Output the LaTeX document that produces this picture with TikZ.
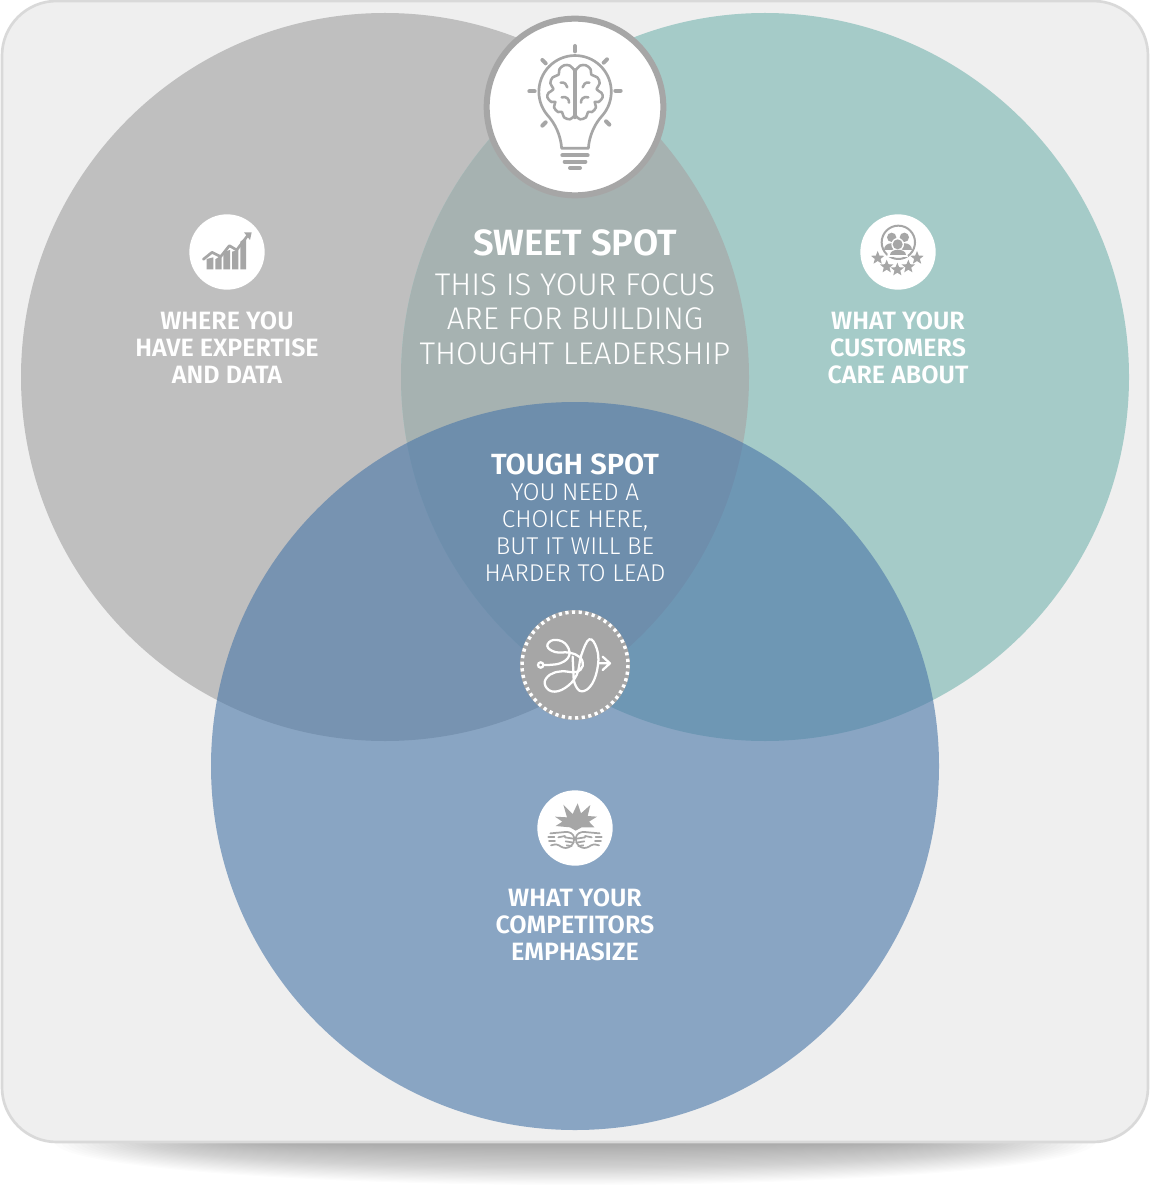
\documentclass[tikz,border=0pt]{standalone}
\usepackage{fontspec}
\setmainfont{Fira Sans}
\newfontfamily\lightfont[UprightFont={* Light}]{Fira Sans}
\newfontfamily\medfont[UprightFont={* SemiBold}]{Fira Sans}
\usetikzlibrary{shapes.geometric}
\definecolor{panelfill}{HTML}{EFEFEF}
\definecolor{panelline}{HTML}{D9D9D9}
\definecolor{graycircle}{HTML}{BFBFBF}
\definecolor{tealcircle}{HTML}{A5CBC8}
\definecolor{grayteal}{HTML}{A6B2B1}
\definecolor{bluecircle}{RGB}{77,121,169}
\definecolor{icongray}{HTML}{A6A6A6}
\tikzset{
  iconline/.style={draw=icongray,line width=2pt,line cap=round,line join=round},
  iconback/.style={fill=white,draw=none},
  labeltext/.style={text=white,align=center,font=\medfont\fontsize{18.8}{20.25}\selectfont},
  sweethead/.style={text=white,font=\medfont\fontsize{27.4}{28}\selectfont},
  sweetbody/.style={text=white,align=center,font=\lightfont\fontsize{23.5}{25.8}\selectfont},
  toughhead/.style={text=white,font=\medfont\fontsize{21.9}{22}\selectfont},
  toughbody/.style={text=white,align=center,font=\lightfont\fontsize{18.2}{20.25}\selectfont},
}
\newcommand{\brainlobe}{%
  \draw[iconline,line width=1.9pt] plot[smooth,tension=.6] coordinates {(312,180) (300,167) (282,166) (268,178) (266,194) (248,202) (241,220) (250,238) (236,248) (232,262) (244,276) (256,276) (252,292) (264,306) (276,306) (282,322) (300,328) (312,318)};
  \draw[iconline,line width=1.9pt] (272,218) .. controls (285,215) and (290,225) .. (292,232);
  \draw[iconline,line width=1.9pt] (275,262) .. controls (290,258) and (298,268) .. (297,278);
}
\newcommand{\fistshape}{%
  \draw[iconline,line width=1.3pt,rounded corners=2pt] (76,160) -- (100,158) -- (130,155) -- (146,164) -- (148,180) -- (143,194) -- (130,204) -- (114,204) -- (96,192) -- (78,196);
  \draw[iconline,line width=1.3pt] (100,172) -- (120,168) (120,172) -- (146,176) (122,184) -- (146,188) (125,196) -- (140,198);
  \draw[iconline,line width=1.3pt] (70,172) -- (88,172) (72,184) -- (90,184);
}
\begin{document}
\begin{tikzpicture}[x=.75pt,y=-.75pt]
\useasboundingbox (0,0) rectangle (1155,1194);

\begin{scope}
\clip (0,1142) rectangle (1155,1194);
\foreach \i in {36,35,...,1}{
  \pgfmathsetmacro{\shadowt}{\i/36};
  \fill[black,fill opacity=.0105] (575,1142) ellipse [x radius={300+220*\shadowt},y radius={43*\shadowt}];
}
\end{scope}
\draw[panelline,fill=panelfill,line width=2pt,rounded corners=41pt] (2,1) rectangle (1148,1142);

\pgfmathsetmacro{\vennr}{364};
\coordinate (grayc) at (385,377);
\coordinate (tealc) at (765,377);
\coordinate (bluec) at (575,766);
\fill[graycircle] (grayc) circle [radius=\vennr];
\fill[tealcircle] (tealc) circle [radius=\vennr];
\begin{scope}
\clip (grayc) circle [radius=\vennr];
\fill[grayteal] (tealc) circle [radius=\vennr];
\end{scope}
\fill[bluecircle,fill opacity=.625] (bluec) circle [radius=\vennr];

\node[circle,fill=white,draw=icongray,line width=4.5pt,minimum size=132.5pt,inner sep=0pt] (bulbcircle) at (575,107) {};
\begin{scope}[shift={(470,10)},x=.25pt,y=-.25pt]
\draw[iconline] (275,415) .. controls (272,375) and (255,340) .. (232,315) arc [radius=108.6,start angle=140,end angle=400] .. controls (375,340) and (358,375) .. (355,415) -- cycle;
\draw[iconline,line width=2.8pt] (315,180) -- (315,322);
\brainlobe
\begin{scope}[shift={(630,0)},xscale=-1]
\brainlobe
\end{scope}
\draw[iconline,line width=3pt] (277,436) -- (353,436);
\draw[iconline,line width=3pt] (284,455) -- (346,455);
\draw[iconline,line width=3pt] (300,474) -- (330,474);
\draw[iconline,line width=3pt] (315,108) -- (315,124);
\draw[iconline,line width=3pt] (178,244) -- (194,244);
\draw[iconline,line width=3pt] (436,242) -- (452,242);
\draw[iconline,line width=3pt] (217,150) -- (227,160);
\draw[iconline,line width=3pt] (411,148) -- (401,158);
\draw[iconline,line width=3pt] (217,347) -- (227,337);
\draw[iconline,line width=3pt] (418,344) -- (408,334);
\end{scope}

\node[circle,iconback,minimum size=56.5pt,inner sep=0pt] (chartcircle) at (227,252) {};
\begin{scope}[shift={(170,200)},x=.25pt,y=-.25pt]
\foreach \xa/\xb/\ya/\yb in {110/130/177/172,136/155/178/165,160/180/155/150,186/205/155/150,211/228/125/112}{
  \fill[icongray] (\xa,208) -- (\xa,\ya) -- (\xb,\yb) -- (\xb,208) -- cycle;
}
\draw[iconline] (100,178) -- (126,157) -- (152,170) -- (178,137) -- (200,150) -- (232,108);
\fill[icongray] (222,97) -- (245,97) -- (240,120) -- cycle;
\end{scope}

\node[circle,iconback,minimum size=56.5pt,inner sep=0pt] (peoplecircle) at (898,252) {};
\begin{scope}[shift={(845,200)},x=.25pt,y=-.25pt]
\draw[iconline,line width=1.5pt] (160,127) circle [radius=50];
\foreach \hx/\hy/\hr in {140/112/14,178/112/14}{
  \fill[icongray] (\hx,\hy) circle [radius=\hr];
  \fill[icongray] (\hx-22,150) .. controls (\hx-22,122) and (\hx+22,122) .. (\hx+22,150) -- cycle;
}
\fill[white] (158,133) circle [radius=19];
\fill[white] (126,172) .. controls (126,138) and (190,138) .. (190,172) -- cycle;
\fill[icongray] (158,133) circle [radius=15];
\fill[icongray] (134,166) .. controls (134,143) and (182,143) .. (182,166) -- cycle;
\foreach \sx/\sy [count=\i] in {98/174,125/200,157/209,190/200,216/174}{
  \node[star,star points=5,star point ratio=2.3,fill=icongray,minimum size=10.5pt,inner sep=0pt] (star\i) at (\sx,\sy) {};
}
\end{scope}

\node[circle,fill=icongray,draw=none,minimum size=82.5pt,inner sep=0pt] (routecircle) at (575,665) {};
\draw[white,line width=2.6pt,dash pattern=on 2.4pt off 2.6pt] (routecircle.center) circle [radius=53];
\begin{scope}[shift={(510,600)},x=.25pt,y=-.25pt]
\draw[white,line width=1.7pt] (92,195) circle [radius=8];
\draw[white,line width=1.7pt,line cap=round] plot[smooth,tension=.7] coordinates {(100,195) (150,190) (178,165) (165,130) (130,120) (112,138) (135,156) (178,158) (210,172) (218,198) (198,216) (155,214) (120,224) (104,250) (125,274) (165,264) (200,225) (214,165) (238,118) (260,145) (264,195) (246,252) (215,274) (194,250) (190,210) (188,170)};
\draw[white,line width=1.7pt,line cap=round,line join=round] (264,190) -- (300,190) (278,170) -- (300,190) -- (278,210);
\end{scope}

\node[circle,iconback,minimum size=56.5pt,inner sep=0pt] (fistcircle) at (575,828) {};
\begin{scope}[shift={(525,780)},x=.25pt,y=-.25pt]
\fill[icongray] (90,110) -- (126,112) -- (115,74) -- (143,102) -- (158,70) -- (168,100) -- (196,75) -- (188,108) -- (216,110) -- (192,125) -- (208,142) -- (170,142) -- (152,152) -- (135,142) -- (92,138) -- (112,125) -- cycle;
\fistshape
\begin{scope}[shift={(300,0)},xscale=-1]
\fistshape
\end{scope}
\end{scope}

\node[labeltext] (expertise) at (227,348) {WHERE YOU\\HAVE EXPERTISE\\AND DATA};
\node[labeltext] (customers) at (898,348) {WHAT YOUR\\CUSTOMERS\\CARE ABOUT};
\node[labeltext] (competitors) at (575,925) {WHAT YOUR\\COMPETITORS\\EMPHASIZE};
\node[sweethead] (sweethead) at (575,243) {SWEET SPOT};
\node[sweetbody] (sweetbody) at (575,319) {THIS IS YOUR FOCUS\\ARE FOR BUILDING\\THOUGHT LEADERSHIP};
\node[toughhead] (toughhead) at (575,464) {TOUGH SPOT};
\node[toughbody] (toughbody) at (575,533) {YOU NEED A\\CHOICE HERE,\\BUT IT WILL BE\\HARDER TO LEAD};
\end{tikzpicture}
\end{document}
